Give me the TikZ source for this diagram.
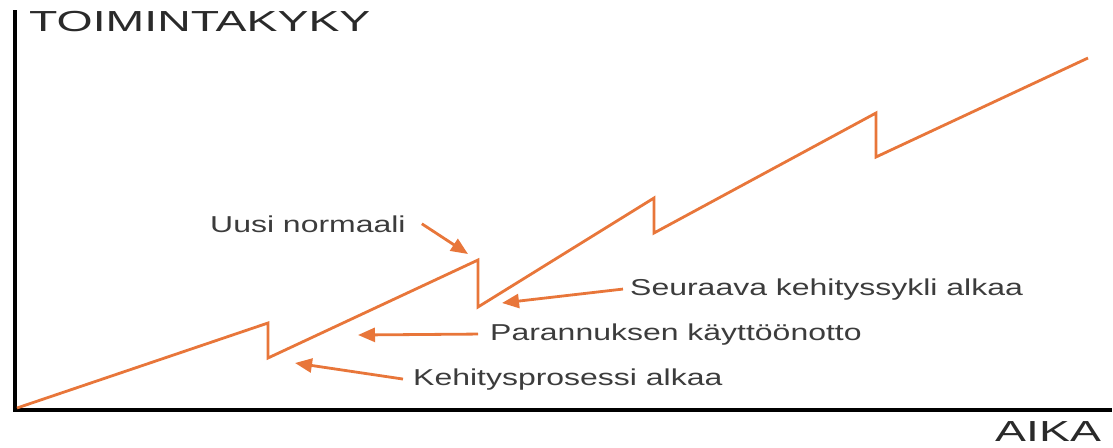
\documentclass[tikz,border=0pt]{standalone}
\usepackage{fontspec}
\usetikzlibrary{arrows.meta}
\newfontfamily\lblfont[FakeStretch=1.39]{Liberation Sans}
\newfontfamily\axfont[FakeStretch=1.6]{Liberation Sans}
\definecolor{curveorange}{HTML}{E8763A}
\definecolor{labelgray}{HTML}{3C3C3C}
\definecolor{axisgray}{HTML}{2A2A2A}
\tikzset{
  axisline/.style={line width=4pt, black, line cap=rect},
  progress/.style={line width=2.8pt, curveorange, line join=miter},
  pointer/.style={line width=2.8pt, curveorange, -{Triangle[length=17pt,width=14pt]}},
  note/.style={anchor=base west, inner sep=0pt, text=labelgray,
    font=\lblfont\fontsize{23}{27}\selectfont},
  axislabel/.style={anchor=base west, inner sep=0pt, text=axisgray,
    font=\axfont\fontsize{29}{34}\selectfont}
}
\begin{document}
\begin{tikzpicture}[x=1pt, y=-1pt]
  \useasboundingbox (0,0) rectangle (1113,447);

  % axes
  \coordinate (ytop) at (15,12);
  \coordinate (orig) at (15,410);
  \coordinate (xend) at (1110,410);
  \draw[axisline] (ytop) -- (orig) -- (xend);
  \node[axislabel] (ylab) at (29,31) {TOIMINTAKYKY};
  \node[axislabel] (xlab) at (995,441) {AIKA};

  % sawtooth development curve
  \draw[progress] (17,408) -- (268,323) -- (268,358) -- (478,260) -- (478,307)
    -- (654,198) -- (654,233) -- (876,113) -- (876,157) -- (1088,58);

  % annotations
  \node[note] (uusi) at (210,232) {Uusi normaali};
  \node[note] (seur) at (630,295) {Seuraava kehityssykli alkaa};
  \node[note] (para) at (490,340) {Parannuksen käyttöönotto};
  \node[note] (kehi) at (413,385) {Kehitysprosessi alkaa};

  \coordinate (uusitip) at (468,254);
  \coordinate (seurtip) at (502,303);
  \coordinate (paratip) at (358,335);
  \coordinate (kehitip) at (295,363);

  \draw[pointer] ([xshift=16pt]uusi.east) -- (uusitip);
  \draw[pointer] ([xshift=-7pt]seur.west) -- (seurtip);
  \draw[pointer] ([xshift=-12pt]para.west) -- (paratip);
  \draw[pointer] ([xshift=-10pt]kehi.west) -- (kehitip);
\end{tikzpicture}
\end{document}
